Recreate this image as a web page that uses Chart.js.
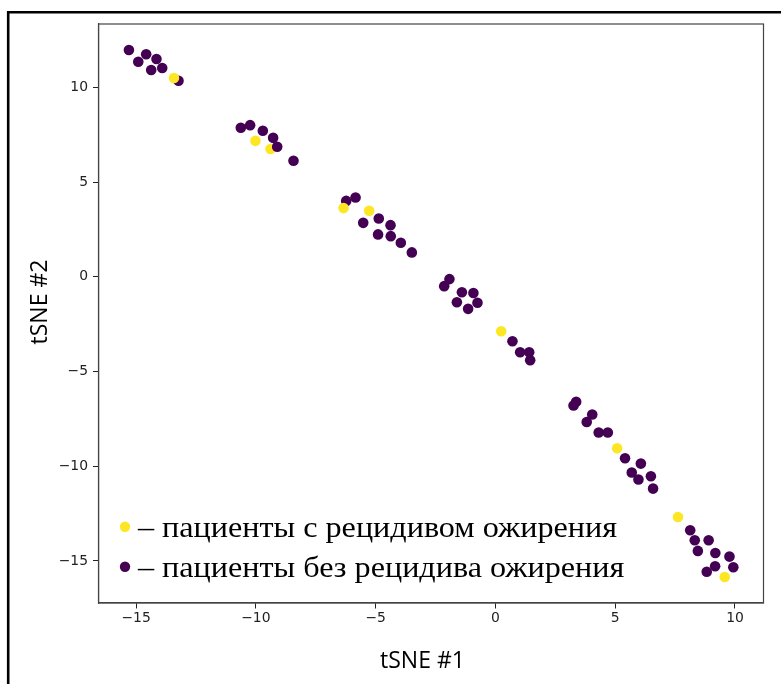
<!DOCTYPE html>
<html>
<head>
<meta charset="utf-8">
<script src="https://cdn.jsdelivr.net/npm/chart.js@4"></script>
<style>
  html, body { margin: 0; padding: 0; background: #fff; }
  #wrap { width: 781px; height: 684px; }
</style>
</head>
<body>
<div id="wrap"><canvas id="c" width="781" height="684"></canvas></div>
<script>
// ---- data ----
const tsne1 = [
  -15.30, -14.91, -14.58, -14.15, -14.37, -13.91, -13.23, -13.42,
  -10.63, -10.24, -9.71, -10.02, -9.28, -9.39, -9.11, -8.43,
  -6.23, -5.84, -6.34, -5.27, -5.52, -4.87, -4.38, -4.90, -4.37, -3.95, -3.49,
  -1.92, -2.14, -1.40, -0.92, -1.61, -0.75, -1.14,
  0.24, 0.71, 1.03, 1.41, 1.45,
  3.37, 3.26, 4.04, 3.81, 4.31, 4.69, 5.08, 5.41, 6.07, 5.69, 6.49, 5.97, 6.58,
  7.62, 8.13, 8.32, 8.90, 8.45, 9.18, 9.77, 9.17, 9.93, 8.82, 9.57
];
const tsne2 = [
  11.98, 11.36, 11.75, 11.50, 10.92, 11.03, 10.35, 10.50,
  7.87, 8.01, 7.71, 7.18, 7.34, 6.75, 6.87, 6.13,
  4.01, 4.19, 3.63, 3.49, 2.85, 3.08, 2.73, 2.24, 2.15, 1.80, 1.29,
  -0.12, -0.49, -0.81, -0.85, -1.34, -1.37, -1.69,
  -2.87, -3.40, -3.98, -3.98, -4.40,
  -6.60, -6.79, -7.27, -7.66, -8.22, -8.22, -9.05, -9.58, -9.86, -10.33, -10.53, -10.70, -11.18,
  -12.68, -13.38, -13.91, -13.91, -14.47, -14.58, -14.77, -15.28, -15.33, -15.57, -15.85
];
// 1 = patient with obesity relapse, 0 = without
const relapse = [
  0, 0, 0, 0, 0, 0, 0, 1,
  0, 0, 0, 1, 0, 1, 0, 0,
  0, 0, 1, 1, 0, 0, 0, 0, 0, 0, 0,
  0, 0, 0, 0, 0, 0, 0,
  1, 0, 0, 0, 0,
  0, 0, 0, 0, 0, 0, 1, 0, 0, 0, 0, 0, 0,
  1, 0, 0, 0, 0, 0, 0, 0, 0, 0, 1
];
const xTicks = [-15, -10, -5, 0, 5, 10];
const yTicks = [-15, -10, -5, 0, 5, 10];
const legendLabels = ['– пациенты с рецидивом ожирения', '– пациенты без рецидива ожирения'];
const legendClasses = [1, 0];
const xTitle = 'tSNE #1';
const yTitle = 'tSNE #2';

// ---- styles ----
const COLORS = { 0: '#440154', 1: '#fde725' };
const points = tsne1.map((x, i) => ({ x: x, y: tsne2[i] }));
const fmt = v => (v < 0 ? '\u2212' + Math.abs(v) : String(v));

const decor = {
  id: 'decor',
  beforeDraw(chart) {
    const ctx = chart.ctx;
    ctx.save();
    ctx.fillStyle = '#fff';
    ctx.fillRect(0, 0, chart.width, chart.height);
    ctx.restore();
  },
  afterDraw(chart) {
    const ctx = chart.ctx;
    const a = chart.chartArea;
    ctx.save();
    // axes frame
    ctx.strokeStyle = '#444';
    ctx.lineWidth = 1.2;
    ctx.strokeRect(a.left, a.top, a.right - a.left, a.bottom - a.top);
    // outer black frame (left + top)
    ctx.strokeStyle = '#000';
    ctx.lineWidth = 2.6;
    ctx.beginPath();
    ctx.moveTo(8.2, chart.height + 5);
    ctx.lineTo(8.2, 12.3);
    ctx.lineTo(chart.width + 5, 12.3);
    ctx.stroke();
    // axis titles
    ctx.fillStyle = '#000';
    ctx.font = '23px "Open Sans"';
    ctx.textAlign = 'center';
    ctx.textBaseline = 'middle';
    ctx.fillText(xTitle, a.left + 324, 661);
    ctx.save();
    ctx.translate(40, 302);
    ctx.rotate(-Math.PI / 2);
    ctx.fillText(yTitle, 0, 0);
    ctx.restore();
    // legend
    ctx.font = '30px "Liberation Serif"';
    ctx.textAlign = 'left';
    ctx.textBaseline = 'alphabetic';
    const w = ctx.measureText(legendLabels[0]).width;
    const sx = 479 / w;
    const rows = [526.7, 566.7];
    legendLabels.forEach((lab, i) => {
      ctx.fillStyle = COLORS[legendClasses[i]];
      ctx.beginPath();
      ctx.arc(125, rows[i], 5.2, 0, Math.PI * 2);
      ctx.fill();
      ctx.fillStyle = '#000';
      ctx.save();
      ctx.translate(138, rows[i] + 10);
      ctx.scale(sx, 1);
      ctx.fillText(lab, 0, 0);
      ctx.restore();
    });
    ctx.restore();
  }
};

const tickFont = { family: '"DejaVu Sans"', size: 13.9 };

new Chart(document.getElementById('c'), {
  type: 'scatter',
  data: {
    datasets: [{
      data: points,
      backgroundColor: relapse.map(r => COLORS[r]),
      borderWidth: 0,
      pointRadius: 5.3,
      pointHoverRadius: 5.3
    }]
  },
  options: {
    responsive: false,
    animation: false,
    layout: { padding: { left: 0, top: 24, right: 17.5, bottom: 0 } },
    plugins: { legend: { display: false }, tooltip: { enabled: false } },
    scales: {
      x: {
        type: 'linear',
        min: -16.57, max: 11.19,
        afterBuildTicks: s => { s.ticks = xTicks.map(v => ({ value: v })); },
        afterFit: s => { s.height = 81; },
        ticks: { callback: v => fmt(v), font: tickFont, color: '#222', padding: 2, maxRotation: 0, autoSkip: false },
        grid: { drawOnChartArea: false, drawTicks: true, tickLength: 5.5, color: '#222' },
        border: { display: true, color: '#444', width: 1.2 }
      },
      y: {
        type: 'linear',
        min: -17.22, max: 13.35,
        afterBuildTicks: s => { s.ticks = yTicks.map(v => ({ value: v })); },
        afterFit: s => { s.width = 98.5; },
        ticks: { callback: v => fmt(v), font: tickFont, color: '#222', padding: 5, autoSkip: false },
        grid: { drawOnChartArea: false, drawTicks: true, tickLength: 5.5, color: '#222' },
        border: { display: true, color: '#444', width: 1.2 }
      }
    }
  },
  plugins: [decor]
});
</script>
</body>
</html>
